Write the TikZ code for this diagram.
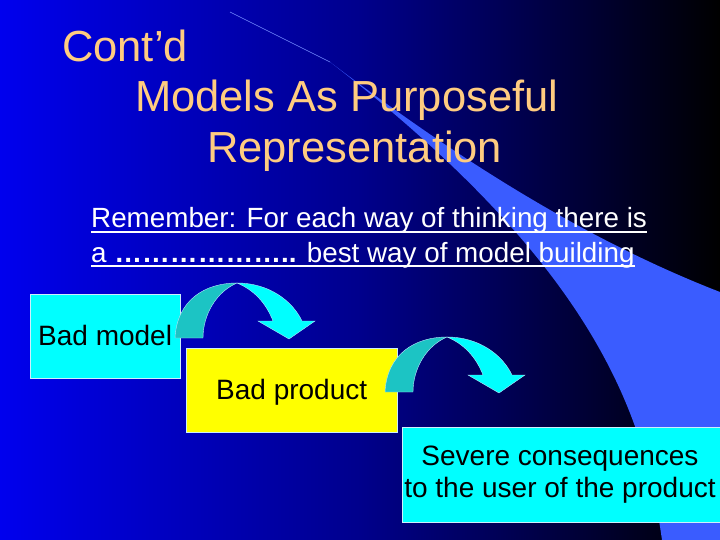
\documentclass[tikz,border=0pt]{standalone}
\usepackage{fontspec}
\setmainfont{Liberation Sans}
\definecolor{ttl}{HTML}{FFCC80}
\definecolor{band}{HTML}{3A5CFF}
\definecolor{cy}{HTML}{00FFFF}
\definecolor{dcy}{HTML}{1CC4C4}
\definecolor{ye}{HTML}{FFFF00}
\begin{document}
\begin{tikzpicture}[x=1pt,y=-1pt,
  title/.style={anchor=base west,inner sep=0,text=ttl,font=\fontsize{43.5}{45}\selectfont},
  body/.style={anchor=base west,inner sep=0,text=white,font=\fontsize{27.8}{30}\selectfont},
  boxtxt/.style={inner sep=0,text=black,font=\fontsize{28}{32}\selectfont,align=center},
  boxfill/.style={draw=white!80!cyan,line width=0.8pt},
  uline/.style={white,line width=1.2pt},
  dpart/.style={fill=dcy,draw=white!70!cyan,line width=0.4pt},
  lpart/.style={fill=cy,draw=white!70!cyan,line width=0.4pt}]
\useasboundingbox (0,0) rectangle (720,540);
\shade[left color={rgb,255:red,0;green,0;blue,238},right color=black,middle color={rgb,255:red,0;green,0;blue,140}] (0,0) rectangle (720,540);
% decorative band
\fill[band] (330,62) .. controls (420,130) and (560,230) .. (720,292) -- (720,540) -- (662,540)
  .. controls (645,420) and (600,270) .. (330,62) -- cycle;
\draw[band!70!white,line width=0.6pt] (230,12) -- (330,62);
% title
\node[title] (t1) at (62,62) {Cont’d};
\node[title] (t2) at (135,112) {Models As Purposeful};
\node[title] (t3) at (207,163) {Representation};
% body
\node[body] (b1) at (91,228) {Remember: For each way of thinking there is};
\node[body] (b2) at (91,262) {a \textbf{………………..} best way of model building};
\draw[uline] ([yshift=-4pt]b1.base west) -- ([yshift=-4pt]b1.base east);
\draw[uline] ([yshift=-4pt]b2.base west) -- ([yshift=-4pt]b2.base east);
% boxes
\node[boxfill,fill=cy,minimum width=150,minimum height=84,anchor=north west] (m) at (30,294) {};
\node[boxtxt,anchor=base west] (mt) at (38,345) {Bad model};
\node[boxfill,fill=ye,minimum width=211,minimum height=84,anchor=north west] (p) at (186,348) {};
\node[boxtxt,anchor=base west] (pt) at (216,399) {Bad product};
\node[boxfill,fill=cy,minimum width=318,minimum height=95,anchor=north west] (s) at (402,427) {};
\node[boxtxt] (st) at (560,475) {Severe consequences\\to the user of the product};
% curved arrows
\foreach \dx/\dy in {0/0,210/54}{
\begin{scope}[shift={(\dx,\dy)}]
\draw[dpart] (175,338) .. controls (177,300) and (205,283) .. (237,283)
  .. controls (216,292) and (203,315) .. (203,338) -- cycle;
\draw[lpart] (237,283) .. controls (268,283) and (292,300) .. (302,321) -- (315,321) -- (289,339) -- (258,321) -- (273,321)
  .. controls (266,303) and (254,290) .. (237,283) -- cycle;
\end{scope}}
\end{tikzpicture}
\end{document}
